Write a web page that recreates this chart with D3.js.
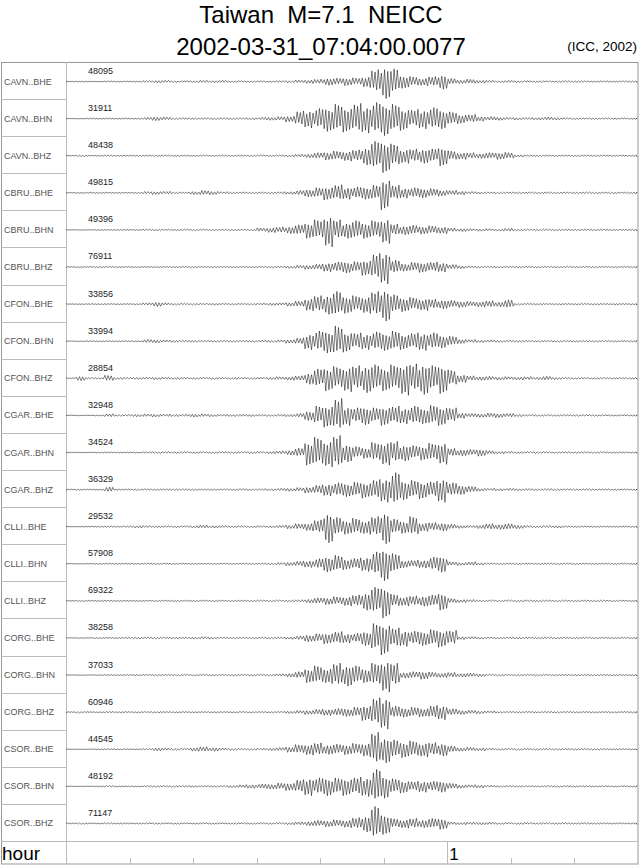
<!DOCTYPE html>
<html>
<head>
<meta charset="utf-8">
<script src="https://cdn.jsdelivr.net/npm/d3@7"></script>
<style>
  body { margin: 0; background: #fff; }
  svg { display: block; font-family: "Liberation Sans", Arial, sans-serif; }
  .frame { fill: none; stroke: #999; stroke-width: 1; }
  .sep { stroke: #bbb; stroke-width: 1; }
  .trace { fill: none; stroke: #000; stroke-width: 0.5; }
  .sta { font-size: 9px; fill: #555; }
  .amp { font-size: 9px; fill: #222; }
</style>
</head>
<body>
<div id="chart"></div>
<script>
// stations and trace maxima (counts)
const stations = ["CAVN..BHE", "CAVN..BHN", "CAVN..BHZ", "CBRU..BHE", "CBRU..BHN", "CBRU..BHZ",
  "CFON..BHE", "CFON..BHN", "CFON..BHZ", "CGAR..BHE", "CGAR..BHN", "CGAR..BHZ",
  "CLLI..BHE", "CLLI..BHN", "CLLI..BHZ", "CORG..BHE", "CORG..BHN", "CORG..BHZ",
  "CSOR..BHE", "CSOR..BHN", "CSOR..BHZ"];
const peaks = [48095, 31911, 48438, 49815, 49396, 76911, 33856, 33994, 28854, 32948, 34524, 36329,
  29532, 57908, 69322, 38258, 37033, 60946, 44545, 48192, 71147];

// envelope of each trace, % of its maximum, one value per 1.5 minutes (0 .. 90 min)
const binMinutes = 1.5;
const envCAVN_BHE = [2,3,2,2,4,3,3,4,6,8,7,5,4,6,8,7,8,5,5,5,5,4,5,7,9,12,14,22,20,24,22,35,70,100,75,40,30,25,30,45,18,12,14,10,8,6,7,6,5,6,5,5,6,5,5,4,5,4,5,5];
const envCAVN_BHN = [2,2,3,3,3,3,3,4,8,12,10,6,5,5,6,6,6,6,6,7,8,10,12,20,45,55,60,75,85,80,90,85,95,100,85,70,55,60,65,60,40,30,25,15,12,10,8,8,7,8,10,8,6,5,5,5,5,4,4,4];
const envCAVN_BHZ = [2,6,3,3,5,3,3,4,4,4,5,4,4,4,5,4,5,4,4,5,5,5,6,7,9,12,18,25,28,32,35,55,85,100,70,45,40,45,40,60,30,22,18,16,18,22,20,8,5,5,4,4,4,5,4,4,4,4,4,4];
const envCBRU_BHE = [2,3,3,3,3,3,3,4,8,10,9,6,5,10,14,12,7,6,6,6,6,6,7,9,14,24,30,42,48,38,35,38,45,100,45,32,30,30,25,20,15,12,8,7,6,6,6,5,5,5,5,5,5,5,5,5,4,5,4,5];
const envCBRU_BHN = [2,2,2,3,3,3,3,3,5,5,4,4,5,5,5,5,5,6,6,6,12,16,18,22,30,50,60,100,60,50,55,50,55,80,35,28,28,25,25,22,12,10,8,8,8,7,10,6,5,5,5,5,4,4,4,4,4,4,4,4];
const envCBRU_BHZ = [3,4,3,4,4,3,3,3,3,3,4,4,4,4,4,4,4,4,4,4,5,5,6,8,10,14,18,28,30,35,32,50,80,100,40,25,28,32,30,30,15,10,7,6,6,6,5,5,5,5,5,4,5,4,4,5,4,4,4,4];
const envCFON_BHE = [2,3,3,3,3,3,3,4,8,14,8,6,6,6,6,7,6,6,6,6,7,8,8,12,18,40,50,60,75,55,50,55,75,100,55,45,40,38,30,28,22,20,16,18,20,16,25,6,5,5,4,5,4,4,5,4,4,4,4,4];
const envCFON_BHN = [2,2,3,3,3,3,3,3,10,10,8,7,6,6,6,6,6,6,6,6,7,7,8,12,20,50,60,70,90,65,50,50,55,55,60,50,50,55,50,40,30,15,10,8,8,7,6,6,5,5,5,5,5,5,5,5,5,4,4,4];
const envCFON_BHZ = [4,14,5,5,18,7,6,7,7,8,7,7,6,6,6,7,6,7,7,6,7,8,10,12,15,35,55,75,70,80,75,85,80,75,80,100,85,95,75,90,50,25,15,12,12,10,10,10,10,8,12,8,6,5,6,5,5,5,5,5];
const envCGAR_BHE = [2,2,2,3,10,5,6,8,9,9,8,7,7,10,9,8,7,7,7,7,6,6,7,8,12,30,55,70,100,60,45,55,45,60,55,50,55,50,60,60,45,18,12,12,14,14,12,8,6,6,5,5,5,5,5,5,4,4,4,4];
const envCGAR_BHN = [2,2,2,3,3,3,3,3,4,6,5,5,6,6,6,6,6,6,6,7,7,8,10,15,25,75,90,85,100,55,35,35,60,75,65,50,40,45,55,70,25,20,18,22,12,8,7,6,6,6,5,5,6,5,5,5,5,4,4,4];
const envCGAR_BHZ = [3,4,3,3,15,4,4,5,5,5,5,5,5,5,5,5,5,6,6,6,6,7,8,10,12,20,28,38,40,42,45,50,60,75,100,60,55,55,50,75,40,30,20,10,8,8,8,7,6,6,6,6,5,5,5,5,5,5,4,4];
const envCLLI_BHE = [2,2,3,3,5,3,6,8,7,6,5,5,5,8,10,8,7,6,6,6,6,6,8,12,18,25,40,95,55,45,50,45,60,100,45,40,60,28,25,25,15,10,8,12,18,16,18,12,8,6,7,8,5,5,4,4,4,4,4,4];
const envCLLI_BHN = [2,2,2,3,3,3,3,3,4,4,4,4,4,4,4,4,4,4,5,5,5,6,8,12,16,22,30,48,50,35,35,45,70,100,60,25,22,25,40,50,12,10,12,8,6,5,5,5,5,5,5,5,5,5,4,4,4,4,4,4];
const envCLLI_BHZ = [2,4,3,3,4,3,3,3,3,4,4,4,4,4,4,4,4,4,4,5,5,5,5,6,7,12,18,22,25,30,35,55,80,100,40,30,30,32,35,55,15,10,8,6,6,6,6,6,5,5,5,5,5,5,5,5,5,5,4,4];
const envCORG_BHE = [2,2,2,3,3,3,4,6,6,6,5,5,5,7,8,7,6,5,5,5,6,6,6,8,12,22,25,35,38,30,28,45,85,100,60,50,40,45,50,55,45,10,8,7,6,6,6,6,6,5,5,5,5,5,5,4,4,4,4,4];
const envCORG_BHN = [2,2,2,2,3,3,3,3,4,6,5,6,5,6,6,5,5,5,5,5,5,6,8,12,20,45,55,50,70,65,55,45,70,100,70,18,20,25,18,15,16,12,12,10,6,6,5,5,5,5,5,4,4,4,4,4,4,4,4,4];
const envCORG_BHZ = [3,5,3,3,5,4,4,4,4,4,4,4,4,4,4,4,4,4,5,5,5,5,6,8,10,14,18,20,22,25,30,50,85,100,35,30,30,28,40,45,20,14,12,10,8,6,5,5,5,5,5,5,5,4,4,4,4,4,4,4];
const envCSOR_BHE = [2,2,2,3,3,3,3,3,5,10,8,6,6,12,15,12,8,7,6,6,7,8,10,18,28,35,38,30,30,32,35,45,100,80,55,50,50,45,40,40,20,12,12,10,7,6,6,6,5,5,5,5,5,5,5,5,4,4,4,4];
const envCSOR_BHN = [2,2,2,3,5,3,3,3,5,6,5,6,6,6,6,6,6,8,10,12,14,16,20,25,40,55,50,55,50,55,55,60,100,70,45,40,30,35,30,35,18,12,10,10,7,6,6,5,5,5,5,5,5,5,4,4,4,4,4,4];
const envCSOR_BHZ = [3,5,3,3,5,4,4,4,4,5,4,5,4,4,5,5,4,5,5,5,5,5,6,8,10,14,18,20,22,25,35,50,100,65,30,28,30,25,30,35,10,8,8,8,8,6,6,6,6,5,5,5,5,5,5,5,4,4,4,4];

const envelopes = [envCAVN_BHE, envCAVN_BHN, envCAVN_BHZ, envCBRU_BHE, envCBRU_BHN, envCBRU_BHZ,
  envCFON_BHE, envCFON_BHN, envCFON_BHZ, envCGAR_BHE, envCGAR_BHN, envCGAR_BHZ,
  envCLLI_BHE, envCLLI_BHN, envCLLI_BHZ, envCORG_BHE, envCORG_BHN, envCORG_BHZ,
  envCSOR_BHE, envCSOR_BHN, envCSOR_BHZ];

// time axis (minutes): minor ticks and hour labels
const tickMinutes = [10, 20, 30, 40, 50, 70, 80];
const hourMarks = [{ t: 60, label: "1" }];

const W = 640, H = 866;
const margin = { top: 62, left: 66, right: 2, bottom: 2 };
const labelLeft = 1;
const axisH = 23;
const rowH = (H - margin.top - margin.bottom - axisH) / stations.length;
const plotBottom = H - margin.bottom;
const axisTop = plotBottom - axisH;

const svg = d3.select('#chart').append('svg')
  .attr('width', W)
  .attr('height', H);

// titles
svg.append('text')
  .attr('x', 321).attr('y', 23)
  .attr('text-anchor', 'middle')
  .style('font-size', '24px')
  .style('white-space', 'pre')
  .text('Taiwan  M=7.1  NEICC');
svg.append('text')
  .attr('x', 321).attr('y', 55)
  .attr('text-anchor', 'middle')
  .style('font-size', '24px')
  .text('2002-03-31_07:04:00.0077');
svg.append('text')
  .attr('x', 637).attr('y', 51)
  .attr('text-anchor', 'end')
  .style('font-size', '13.5px')
  .text('(ICC, 2002)');

const x = d3.scaleLinear().domain([0, 90]).range([margin.left, W - margin.right]);

// frame
svg.append('rect').classed('frame', true)
  .attr('x', labelLeft + 0.5).attr('y', margin.top + 0.5)
  .attr('width', W - margin.right - labelLeft - 0.5)
  .attr('height', plotBottom - margin.top - 0.5);
svg.append('line').classed('sep', true)
  .attr('x1', margin.left + 0.5).attr('x2', margin.left + 0.5)
  .attr('y1', margin.top).attr('y2', plotBottom);
svg.append('line').classed('sep', true)
  .attr('x1', labelLeft).attr('x2', W - margin.right)
  .attr('y1', axisTop + 0.5).attr('y2', axisTop + 0.5);

// row separators in label column
svg.append('g').selectAll('line')
  .data(d3.range(1, stations.length))
  .join('line').classed('sep', true)
  .attr('x1', labelLeft).attr('x2', margin.left)
  .attr('y1', i => Math.round(margin.top + i * rowH) + 0.5)
  .attr('y2', i => Math.round(margin.top + i * rowH) + 0.5);

// traces: each envelope value drawn as a run of up/down swings
const pxPerUnit = 17;
const line = d3.line().x(d => x(d.t)).y(d => d.y);
const swingShape = [1, 0.6, 0.9, 0.5, 0.8, 0.7];   // uneven swing heights inside a step
const rows = svg.append('g').classed('traces', true);

stations.forEach((name, i) => {
  const base = margin.top + i * rowH + rowH / 2 + 1;
  const y = d3.scaleLinear().domain([-100, 100]).range([base + pxPerUnit, base - pxPerUnit]);
  const env = envelopes[i];
  const sub = swingShape.length;
  const pts = [];
  env.forEach((a, b) => {
    swingShape.forEach((f, k) => {
      const s = (b * sub + k + i) % 2 ? -1 : 1;
      const ff = swingShape[(k + b + i) % sub];
      pts.push({ t: b * binMinutes + (k + 0.5) * binMinutes / sub, y: y(s * a * ff) });
    });
  });
  pts.unshift({ t: 0, y: y(0) });
  pts.push({ t: 89.7, y: y(0) });

  const g = rows.append('g');
  g.append('path').classed('trace', true).attr('d', line(pts));
  g.append('text').classed('sta', true)
    .attr('x', 4).attr('y', base + 3)
    .text(name);
  g.append('text').classed('amp', true)
    .attr('x', 88).attr('y', margin.top + i * rowH + 12)
    .text(peaks[i]);
});

// time axis
svg.append('text')
  .attr('x', 2).attr('y', plotBottom - 4)
  .style('font-size', '19px')
  .text('hour');
svg.append('g').selectAll('line')
  .data(tickMinutes)
  .join('line').classed('sep', true)
  .attr('x1', d => Math.round(x(d)) + 0.5).attr('x2', d => Math.round(x(d)) + 0.5)
  .attr('y1', plotBottom - 6).attr('y2', plotBottom);
const hm = svg.append('g').selectAll('g').data(hourMarks).join('g');
hm.append('line').classed('sep', true)
  .attr('x1', d => Math.round(x(d.t)) + 0.5).attr('x2', d => Math.round(x(d.t)) + 0.5)
  .attr('y1', axisTop).attr('y2', plotBottom);
hm.append('text')
  .attr('x', d => x(d.t) + 2).attr('y', plotBottom - 4)
  .style('font-size', '17px')
  .text(d => d.label);
</script>
</body>
</html>
